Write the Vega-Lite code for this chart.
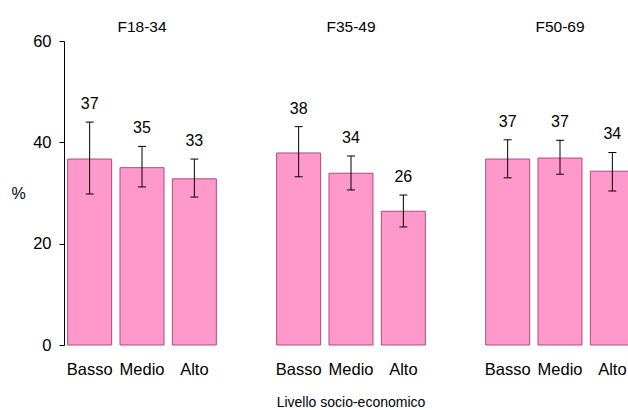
{
  "$schema": "https://vega.github.io/schema/vega-lite/v6.json",
  "padding": {"left": 10, "top": 19, "right": 0, "bottom": 0},
  "data": {"values": [
    {"group": "F18-34", "level": "Basso", "value": 36.7, "lower": 29.8, "upper": 44.0, "label": "37"},
    {"group": "F18-34", "level": "Medio", "value": 35.0, "lower": 31.2, "upper": 39.2, "label": "35"},
    {"group": "F18-34", "level": "Alto", "value": 32.8, "lower": 29.2, "upper": 36.7, "label": "33"},
    {"group": "F35-49", "level": "Basso", "value": 37.9, "lower": 33.2, "upper": 43.1, "label": "38"},
    {"group": "F35-49", "level": "Medio", "value": 33.9, "lower": 30.6, "upper": 37.3, "label": "34"},
    {"group": "F35-49", "level": "Alto", "value": 26.4, "lower": 23.3, "upper": 29.6, "label": "26"},
    {"group": "F50-69", "level": "Basso", "value": 36.7, "lower": 33.0, "upper": 40.5, "label": "37"},
    {"group": "F50-69", "level": "Medio", "value": 36.9, "lower": 33.7, "upper": 40.4, "label": "37"},
    {"group": "F50-69", "level": "Alto", "value": 34.3, "lower": 30.4, "upper": 38.0, "label": "34"}
  ]},
  "facet": {
    "column": {
      "field": "group", "type": "nominal", "sort": ["F18-34", "F35-49", "F50-69"],
      "header": {
        "title": "Livello socio-economico", "titleOrient": "bottom", "labelOrient": "top",
        "labelFont": "Liberation Sans", "labelFontSize": 15.5, "labelColor": "black", "labelPadding": 6,
        "titleFont": "Liberation Sans", "titleFontSize": 14, "titleFontWeight": "normal", "titleColor": "black", "titlePadding": 8
      }
    }
  },
  "spacing": 53,
  "spec": {
    "width": 156,
    "height": 304,
    "encoding": {
      "x": {
        "field": "level", "type": "nominal", "sort": ["Basso", "Medio", "Alto"],
        "scale": {"paddingInner": 0.16, "paddingOuter": 0.07},
        "axis": {"title": null, "labelAngle": 0, "domain": false, "ticks": false, "labelPadding": 15,
                 "labelFont": "Liberation Sans", "labelFontSize": 16.5, "labelColor": "black"}
      }
    },
    "layer": [
      {
        "mark": {"type": "bar", "fill": "#ff99cc", "stroke": "#b04a80", "strokeWidth": 1},
        "encoding": {
          "y": {
            "field": "value", "type": "quantitative", "scale": {"domain": [0, 60]},
            "axis": {"values": [0, 20, 40, 60], "title": "%", "titleAngle": 0, "titleAlign": "center", "titleBaseline": "middle",
                     "titleX": -46, "titleY": 152, "titleFont": "Liberation Sans", "titleFontSize": 16, "titleFontWeight": "normal", "titleColor": "black",
                     "labelFont": "Liberation Sans", "labelFontSize": 16.5, "labelColor": "black", "labelPadding": 8,
                     "tickSize": 5, "tickColor": "black", "domainColor": "black", "grid": false}
          }
        }
      },
      {
        "mark": {"type": "rule", "color": "black", "strokeWidth": 1},
        "encoding": {"y": {"field": "lower", "type": "quantitative"}, "y2": {"field": "upper"}}
      },
      {
        "mark": {"type": "tick", "size": 8, "thickness": 1, "color": "black", "opacity": 1},
        "encoding": {"y": {"field": "lower", "type": "quantitative"}}
      },
      {
        "mark": {"type": "tick", "size": 8, "thickness": 1, "color": "black", "opacity": 1},
        "encoding": {"y": {"field": "upper", "type": "quantitative"}}
      },
      {
        "mark": {"type": "text", "dy": -18, "baseline": "middle", "font": "Liberation Sans", "fontSize": 16, "color": "black"},
        "encoding": {"y": {"field": "upper", "type": "quantitative"}, "text": {"field": "label"}}
      }
    ]
  },
  "config": {"view": {"stroke": null}, "axis": {"grid": false}}
}
